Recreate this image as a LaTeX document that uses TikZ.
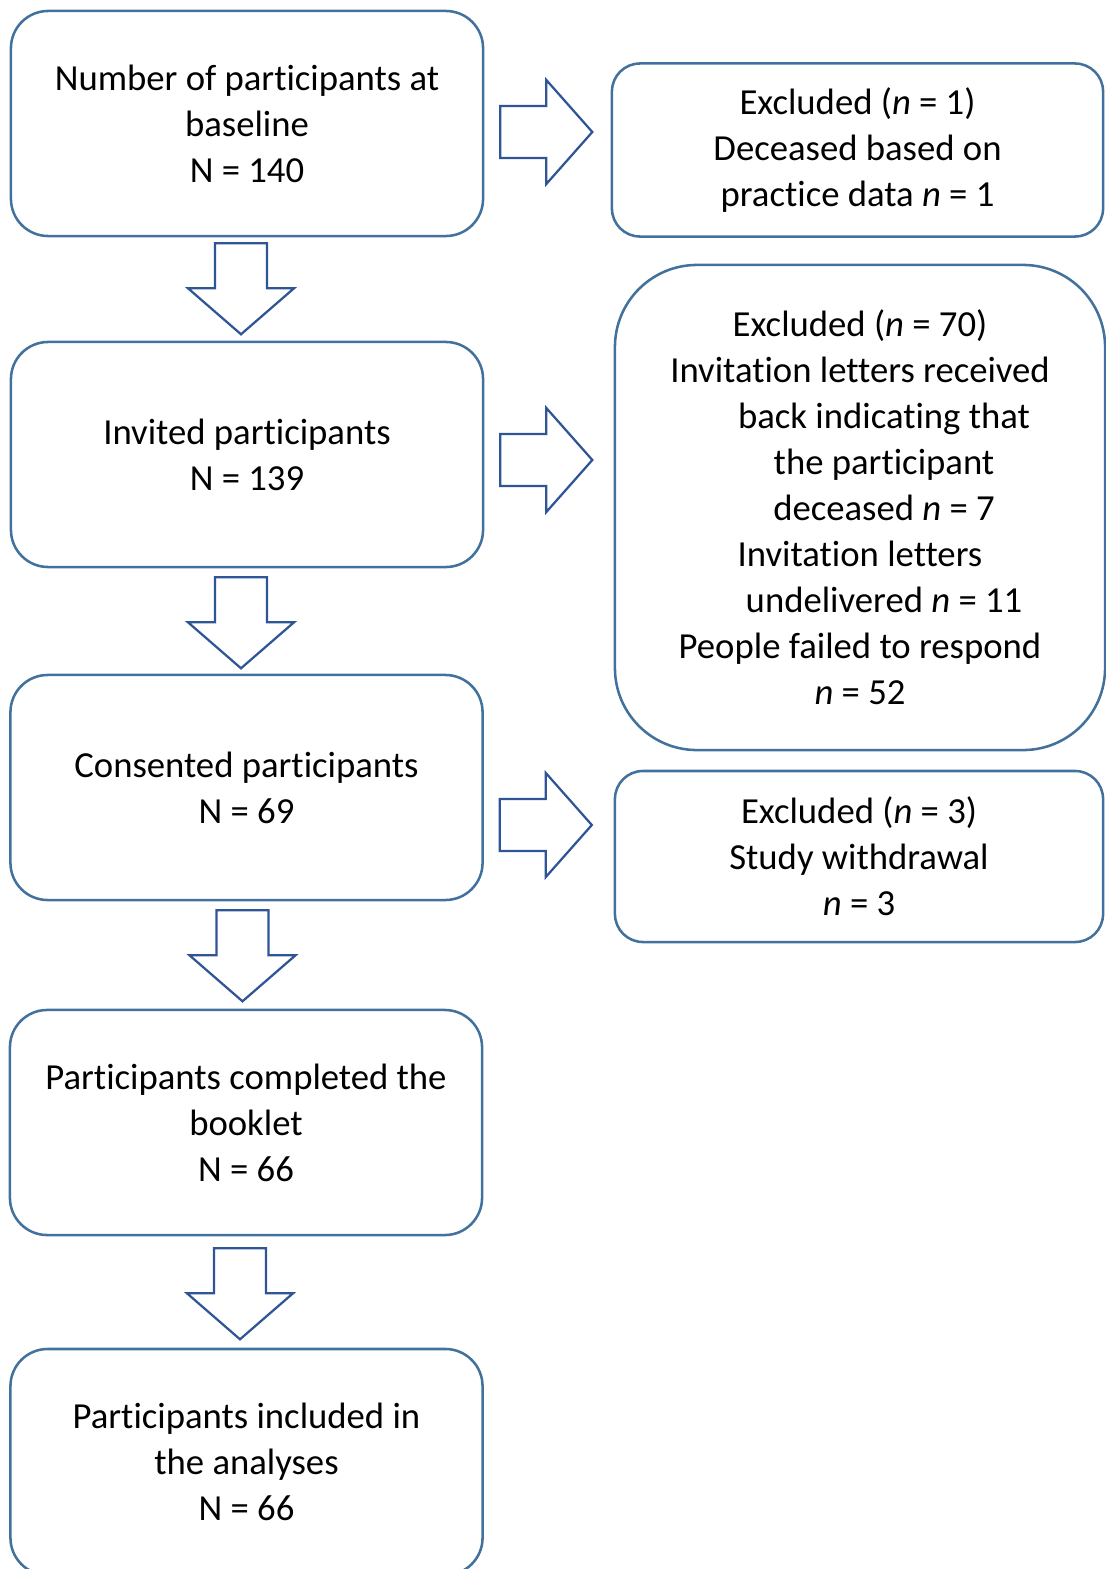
\documentclass[tikz,border=0pt]{standalone}
\usepackage{fontspec}
\setmainfont[Ligatures=NoCommon]{Carlito}
\usetikzlibrary{calc}

\definecolor{boxblue}{RGB}{65,113,156}
\definecolor{arrowblue}{RGB}{47,85,151}

\tikzset{
  stagebox/.style={draw=boxblue, line width=1.8pt, rounded corners=0.93cm,
    minimum width=11.8cm, minimum height=5.625cm, align=center,
    font=\fontsize{26.1}{32.7}\selectfont},
  exclbox/.style={stagebox, rounded corners=0.7cm, minimum width=12.25cm},
  blockarrow/.style={draw=arrowblue, line width=1.6pt, fill=white},
  downblock/.pic={\draw[blockarrow] (-26,0) -- (26,0) -- (26,45) -- (53,45)
    -- (0,91) -- (-53,45) -- (-26,45) -- cycle;},
  rightblock/.pic={\draw[blockarrow] (0,-26) -- (46,-26) -- (46,-52) -- (92,0)
    -- (46,52) -- (46,26) -- (0,26) -- cycle;}
}

\begin{document}
\begin{tikzpicture}[x=0.025cm, y=-0.025cm]
    \useasboundingbox (0,0) rectangle (1105,1569);

    % Main column
    \node [stagebox] (base) at (247,123.5)
          {Number of participants at\\baseline\\N = 140};
    \node [stagebox] (invited) at (247,454.5)
          {Invited participants\\N = 139};
    \node [stagebox] (consented) at (246.5,787.5)
          {Consented participants\\N = 69};
    \node [stagebox] (booklet) at (246,1122.5)
          {Participants completed the\\booklet\\N = 66};
    \node [stagebox, minimum height=5.65cm] (analysed) at (246.5,1462)
          {Participants included in\\the analyses\\N = 66};

    % Exclusions
    \node [exclbox, minimum width=12.275cm, minimum height=4.325cm] (exdead) at (857.5,150)
          {Excluded (\textit{n} = 1)\\Deceased based on\\practice data \textit{n} = 1};
    \node [exclbox, rounded corners=2.05cm, minimum height=12.125cm] (exletters) at (860,507.5)
          {Excluded (\textit{n} = 70)\\
           Invitation letters received\\
           \hspace*{1.2cm}back indicating that\\
           \hspace*{1.2cm}the participant\\
           \hspace*{1.2cm}deceased \textit{n} = 7\\
           Invitation letters\\
           \hspace*{1.2cm}undelivered \textit{n} = 11\\
           People failed to respond\\
           \textit{n} = 52};
    \node [exclbox, minimum width=12.2cm, minimum height=4.275cm] (exwithdraw) at (859,856.5)
          {Excluded (\textit{n} = 3)\\Study withdrawal\\\textit{n} = 3};

    % Down arrows
    \pic at ($(base.south)+(-6,6)$) {downblock};
    \pic at ($(invited.south)+(-6,9)$) {downblock};
    \pic at ($(consented.south)+(-4,9)$) {downblock};
    \pic at ($(booklet.south)+(-6,12)$) {downblock};

    % Side arrows
    \pic at ($(base.east)+(16,8.5)$) {rightblock};
    \pic at ($(invited.east)+(16,5.5)$) {rightblock};
    \pic at ($(consented.east)+(16,37.5)$) {rightblock};
\end{tikzpicture}
\end{document}
